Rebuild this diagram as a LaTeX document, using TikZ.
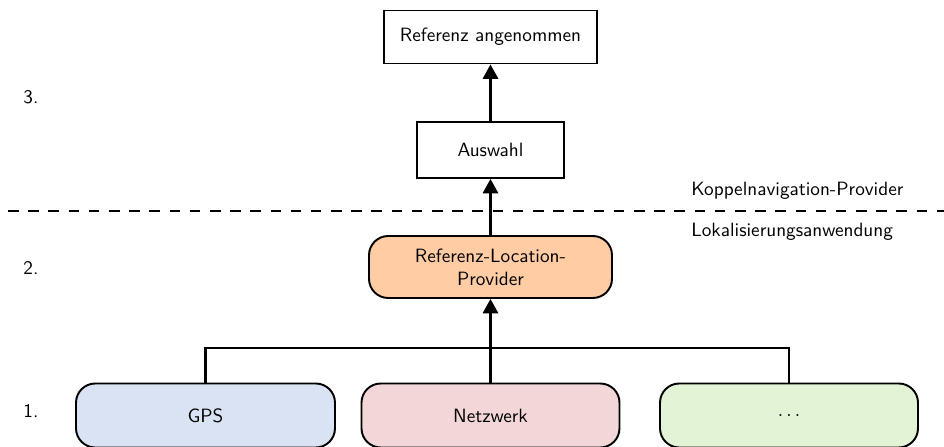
\documentclass[tikz,border=0pt]{standalone}
\usepackage{fontspec}
\usetikzlibrary{arrows.meta}
\definecolor{gpsfill}{RGB}{218,227,243}
\definecolor{netfill}{RGB}{243,215,216}
\definecolor{dotfill}{RGB}{226,243,214}
\definecolor{rlpfill}{RGB}{255,204,164}
\tikzset{
  plainbox/.style={draw, line width=1pt, inner sep=0pt, font=\sffamily},
  roundbox/.style={draw, line width=1pt, rounded corners=10pt, inner sep=0pt, align=center, font=\sffamily},
  conn/.style={line width=1.05pt},
  arr/.style={line width=1.05pt, -{Triangle[width=8pt,length=7.5pt]}},
  lbl/.style={font=\sffamily, anchor=west, inner sep=0pt}
}
\begin{document}
\begin{tikzpicture}[x=0.52pt, y=-0.52pt]
\useasboundingbox (0,0) rectangle (944,447);
\node[plainbox, minimum width=213*0.52pt, minimum height=53*0.52pt] (ref) at (490.5,37) {Referenz angenommen};
\node[plainbox, minimum width=147*0.52pt, minimum height=56*0.52pt] (aus) at (490.5,150) {Auswahl};
\node[roundbox, fill=rlpfill, minimum width=243*0.52pt, minimum height=62*0.52pt] (rlp) at (490.5,267) {Referenz-Location-\\Provider};
\node[roundbox, fill=gpsfill, minimum width=259*0.52pt, minimum height=64*0.52pt] (gps) at (205.5,415.5) {GPS};
\node[roundbox, fill=netfill, minimum width=258*0.52pt, minimum height=64*0.52pt] (net) at (490.5,415.5) {Netzwerk};
\node[roundbox, fill=dotfill, minimum width=258*0.52pt, minimum height=64*0.52pt] (dots) at (789,415.5) {$\ldots$};
\coordinate (j) at (490.5,348);
\coordinate (dl) at (8,211);
\coordinate (dr) at (944,211);
\draw[arr] (aus) -- (ref);
\draw[arr] (rlp) -- (aus);
\draw[arr] (net) -- (rlp);
\draw[conn] (gps.north) -- (gps.north |- j) -- (dots.north |- j) -- (dots.north);
\draw[line width=1pt, dash pattern=on 5.5pt off 5pt] (dl) -- (dr);
\node[lbl] (t3) at (23,97) {3.};
\node[lbl] (t2) at (23,268) {2.};
\node[lbl] (t1) at (23,411) {1.};
\node[lbl] (kp) at (691,191) {Koppelnavigation-Provider};
\node[lbl] (la) at (691,232) {Lokalisierungsanwendung};
\end{tikzpicture}
\end{document}
